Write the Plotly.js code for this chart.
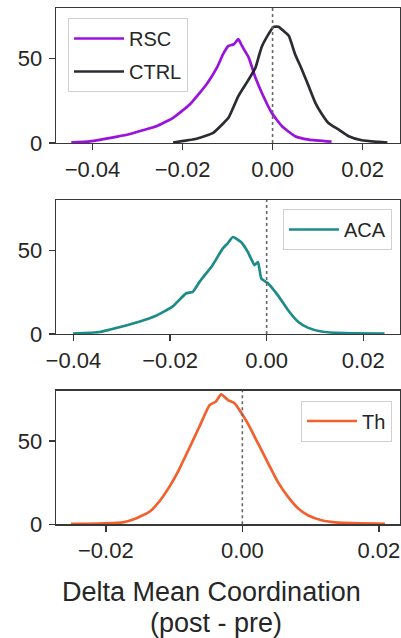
<!DOCTYPE html>
<html>
<head>
<meta charset="utf-8">
<script src="https://cdn.plot.ly/plotly-3.0.1.min.js"></script>
<style>html,body{margin:0;padding:0;background:#fff;}#chart{width:401px;height:638px;}</style>
</head>
<body>
<div id="chart"></div>
<script>
// ---- data ----
const rscX = [-0.0447, -0.0406, -0.0345, -0.0319, -0.0282, -0.0258, -0.0221, -0.0184, -0.0147, -0.0123, -0.011, -0.0098, -0.0086, -0.0076, -0.0068, -0.0053, -0.0038, -0.0024, -0.0002, 0.0021, 0.005, 0.008, 0.0131];
const rscY = [0.3, 1.0, 3.8, 5.2, 8, 9.9, 14.9, 22.8, 34.7, 45, 52.6, 57.5, 58.5, 61.5, 57.5, 50.6, 38.7, 29.8, 17.9, 9.9, 4, 2, 0.8];

const ctrlX = [-0.0221, -0.0169, -0.0132, -0.011, -0.0098, -0.0076, -0.0053, -0.0038, -0.0031, -0.0024, -0.0009, 0.0002, 0.0013, 0.0024, 0.0036, 0.005, 0.0065, 0.008, 0.0095, 0.011, 0.0124, 0.0147, 0.0169, 0.0198, 0.0236, 0.0255];
const ctrlY = [0.3, 2.5, 6, 11.5, 14.9, 27.8, 37.7, 44.6, 51, 57, 64.5, 68.8, 68.9, 66.5, 63.5, 52.6, 43.6, 33.7, 23.8, 16.9, 11.9, 7.9, 4, 1.6, 0.6, 0.2];

const acaX = [-0.0401, -0.0346, -0.0326, -0.0264, -0.0229, -0.0195, -0.0167, -0.0153, -0.0139, -0.0112, -0.0091, -0.0081, -0.007, -0.0053, -0.0039, -0.0025, -0.0018, -0.0011, 0.0003, 0.0023, 0.0044, 0.0065, 0.0085, 0.0113, 0.0161, 0.0244];
const acaY = [0.2, 1.2, 2.5, 7.3, 10.9, 16.3, 24.2, 25.2, 31.1, 41.1, 51, 54, 57.9, 54.9, 49, 41.1, 43, 33.1, 30.2, 23.2, 14.3, 7.3, 3.8, 1.5, 0.5, 0.3];

const thX = [-0.0251, -0.02, -0.0175, -0.0156, -0.0136, -0.0122, -0.0107, -0.0092, -0.0078, -0.0063, -0.0048, -0.0039, -0.0031, -0.0021, -0.0011, -0.0001, 0.0008, 0.0023, 0.0038, 0.0052, 0.0067, 0.0082, 0.0096, 0.0116, 0.014, 0.0209];
const thY = [0.2, 0.6, 1.2, 3.5, 7.5, 13.5, 22.4, 33.4, 45.4, 58.4, 71.4, 73.4, 77.8, 74.4, 72.4, 66.4, 60.4, 48.4, 36.4, 25.4, 16.4, 9.4, 5.4, 2.4, 1, 0.3];

const xTickVals = [-0.04, -0.02, 0.00, 0.02];
const xTickVals3 = [-0.02, 0.00, 0.02];
const yTickVals = [0, 50];
const refLineX = 0;
const xLabelLine1 = "Delta Mean Coordination";
const xLabelLine2 = "(post - pre)";

// ---- styling ----
const FONT = "Liberation Sans, Arial, Helvetica, sans-serif";
const TXT = "#262626";
const AX = "#383838";

function lineTrace(x, y, name, color, xa, ya, legend, group) {
  return {x: x, y: y, name: name, type: "scatter", mode: "lines",
    line: {color: color, width: 2.7, shape: "spline", smoothing: 0.45},
    xaxis: xa, yaxis: ya, legend: legend,
    legendgroup: group, showlegend: true, hoverinfo: "skip"};
}

const traces = [
  lineTrace(rscX, rscY, "RSC", "#9a12dc", "x", "y", "legend", "g1"),
  lineTrace(ctrlX, ctrlY, "CTRL", "rgba(25,25,35,0.92)", "x", "y", "legend", "g2"),
  lineTrace(acaX, acaY, "ACA", "#1d8c88", "x2", "y2", "legend2", "g3"),
  lineTrace(thX, thY, "Th", "#f2602e", "x3", "y3", "legend3", "g4")
];

function xax(range, anchor, vals) {
  return {domain: [0.1397, 0.9975], range: range, anchor: anchor,
    showline: true, mirror: true, linecolor: AX, linewidth: 1.4,
    ticks: "outside", ticklen: 6, tickwidth: 1.4, tickcolor: AX,
    tickvals: vals, tickformat: ".2f", showgrid: false, zeroline: false,
    tickfont: {family: FONT, size: 22, color: TXT}};
}
function yax(domain, anchor) {
  return {domain: domain, range: [0, 80], anchor: anchor,
    showline: true, mirror: true, linecolor: AX, linewidth: 1.4,
    ticks: "outside", ticklen: 6, tickwidth: 1.4, tickcolor: AX,
    tickvals: yTickVals, showgrid: false, zeroline: false,
    ticklabelstandoff: 2,
    tickfont: {family: FONT, size: 22, color: TXT}};
}
function leg(x, y, xanchor, extra) {
  return Object.assign({x: x, y: y, xanchor: xanchor, yanchor: "top",
    xref: "paper", yref: "paper", itemwidth: 50,
    bgcolor: "rgba(255,255,255,0.85)", bordercolor: "#d0d0d0", borderwidth: 1,
    font: {family: FONT, size: 20, color: TXT}, traceorder: "grouped", tracegroupgap: 4}, extra || {});
}
function vline(xa, ya) {
  return {type: "line", xref: xa, yref: ya + " domain", x0: refLineX, x1: refLineX, y0: 0, y1: 1,
    line: {color: "#666", width: 1.6, dash: "dot"}};
}

const layout = {
  width: 401, height: 638, autosize: false,
  margin: {l: 0, r: 0, t: 0, b: 0},
  paper_bgcolor: "#fff", plot_bgcolor: "#fff",
  font: {family: FONT, color: TXT},
  xaxis: xax([-0.0481, 0.0283], "y", xTickVals),
  yaxis: yax([0.7759, 0.9875], "x"),
  xaxis2: xax([-0.0436, 0.0276], "y2", xTickVals),
  yaxis2: yax([0.4765, 0.6865], "x2"),
  xaxis3: xax([-0.0273, 0.0231], "y3", xTickVals3),
  yaxis3: yax([0.1782, 0.3876], "x3"),
  legend: leg(68/401, 1 - 18/638, "left"),
  legend2: leg(392/401, 1 - 209/638, "right"),
  legend3: leg(392/401, 1 - 400.5/638, "right"),
  shapes: [vline("x", "y"), vline("x2", "y2"), vline("x3", "y3")],
  annotations: [
    {text: xLabelLine1, xref: "paper", yref: "paper", x: 211/401, y: 1 - 592/638,
     xanchor: "center", yanchor: "middle", showarrow: false,
     font: {family: FONT, size: 27, color: TXT}},
    {text: xLabelLine2, xref: "paper", yref: "paper", x: 216.5/401, y: 1 - 623/638,
     xanchor: "center", yanchor: "middle", showarrow: false,
     font: {family: FONT, size: 27, color: TXT}}
  ]
};

Plotly.newPlot("chart", traces, layout, {displayModeBar: false, staticPlot: true});
</script>
</body>
</html>
